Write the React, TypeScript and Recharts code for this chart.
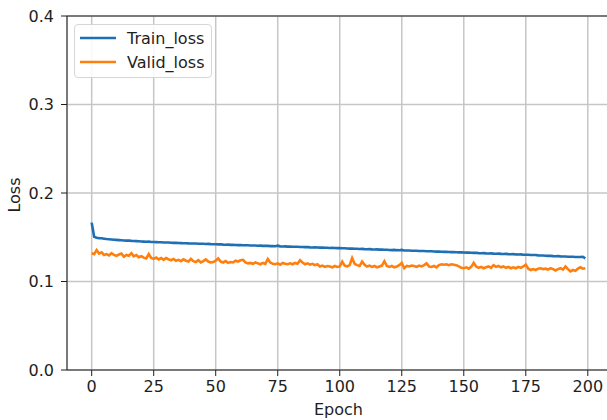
import { LineChart, Line, XAxis, YAxis, CartesianGrid, ReferenceLine, Label } from 'recharts';

const trainLoss: number[] = [
  0.1665, 0.1505, 0.1495, 0.1490, 0.1488, 0.1484, 0.1480, 0.1478, 0.1475, 0.1472,
  0.1470, 0.1468, 0.1466, 0.1464, 0.1462, 0.1463, 0.1459, 0.1457, 0.1456, 0.1455,
  0.1452, 0.1451, 0.1449, 0.1450, 0.1447, 0.1446, 0.1445, 0.1443, 0.1444, 0.1441,
  0.1440, 0.1440, 0.1438, 0.1437, 0.1438, 0.1435, 0.1434, 0.1433, 0.1433, 0.1431,
  0.1430, 0.1429, 0.1430, 0.1427, 0.1426, 0.1426, 0.1424, 0.1425, 0.1422, 0.1421,
  0.1421, 0.1419, 0.1420, 0.1417, 0.1416, 0.1417, 0.1414, 0.1414, 0.1412, 0.1411,
  0.1412, 0.1410, 0.1409, 0.1410, 0.1407, 0.1406, 0.1407, 0.1404, 0.1405, 0.1403,
  0.1402, 0.1402, 0.1400, 0.1401, 0.1399, 0.1405, 0.1397, 0.1396, 0.1397, 0.1394,
  0.1394, 0.1393, 0.1392, 0.1393, 0.1390, 0.1390, 0.1388, 0.1389, 0.1386, 0.1385,
  0.1386, 0.1384, 0.1383, 0.1384, 0.1381, 0.1381, 0.1379, 0.1380, 0.1378, 0.1377,
  0.1377, 0.1375, 0.1376, 0.1373, 0.1372, 0.1373, 0.1370, 0.1370, 0.1368, 0.1369,
  0.1366, 0.1365, 0.1366, 0.1363, 0.1362, 0.1363, 0.1360, 0.1360, 0.1358, 0.1359,
  0.1356, 0.1355, 0.1357, 0.1354, 0.1353, 0.1357, 0.1351, 0.1350, 0.1351, 0.1348,
  0.1347, 0.1348, 0.1345, 0.1344, 0.1345, 0.1342, 0.1341, 0.1342, 0.1339, 0.1338,
  0.1339, 0.1336, 0.1335, 0.1336, 0.1333, 0.1332, 0.1333, 0.1330, 0.1329, 0.1330,
  0.1327, 0.1326, 0.1327, 0.1324, 0.1323, 0.1324, 0.1321, 0.1320, 0.1321, 0.1318,
  0.1317, 0.1318, 0.1315, 0.1314, 0.1315, 0.1312, 0.1311, 0.1312, 0.1309, 0.1308,
  0.1309, 0.1306, 0.1305, 0.1306, 0.1303, 0.1302, 0.1303, 0.1300, 0.1299, 0.1300,
  0.1295, 0.1293, 0.1294, 0.1291, 0.1290, 0.1290, 0.1287, 0.1286, 0.1287, 0.1284,
  0.1283, 0.1283, 0.1280, 0.1279, 0.1280, 0.1277, 0.1276, 0.1277, 0.1280, 0.1262,
];

const validLoss: number[] = [
  0.1320, 0.1310, 0.1355, 0.1315, 0.1330, 0.1300, 0.1310, 0.1295, 0.1320, 0.1300,
  0.1290, 0.1305, 0.1315, 0.1280, 0.1300, 0.1290, 0.1320, 0.1285, 0.1300, 0.1275,
  0.1285, 0.1270, 0.1260, 0.1310, 0.1265, 0.1255, 0.1270, 0.1250, 0.1265, 0.1245,
  0.1265, 0.1250, 0.1240, 0.1255, 0.1235, 0.1245, 0.1230, 0.1250, 0.1235, 0.1225,
  0.1255, 0.1230, 0.1220, 0.1240, 0.1215, 0.1230, 0.1250, 0.1225, 0.1215, 0.1220,
  0.1235, 0.1260, 0.1225, 0.1215, 0.1230, 0.1210, 0.1220, 0.1215, 0.1235, 0.1225,
  0.1240, 0.1245, 0.1215, 0.1205, 0.1210, 0.1200, 0.1215, 0.1205, 0.1195, 0.1210,
  0.1200, 0.1255, 0.1215, 0.1200, 0.1195, 0.1205, 0.1190, 0.1210, 0.1200, 0.1195,
  0.1205, 0.1195, 0.1210, 0.1200, 0.1240, 0.1215, 0.1195, 0.1205, 0.1190, 0.1200,
  0.1185, 0.1195, 0.1170, 0.1180, 0.1165, 0.1175, 0.1170, 0.1160, 0.1175, 0.1165,
  0.1170, 0.1225, 0.1180, 0.1170, 0.1185, 0.1265, 0.1200, 0.1185, 0.1175, 0.1225,
  0.1190, 0.1170, 0.1180, 0.1165, 0.1175, 0.1160, 0.1170, 0.1180, 0.1230, 0.1175,
  0.1165, 0.1175, 0.1160, 0.1170, 0.1185, 0.1210, 0.1150, 0.1175, 0.1170, 0.1180,
  0.1175, 0.1165, 0.1180, 0.1170, 0.1185, 0.1205, 0.1170, 0.1165, 0.1175, 0.1160,
  0.1185, 0.1195, 0.1190, 0.1195, 0.1185, 0.1195, 0.1190, 0.1185, 0.1170, 0.1155,
  0.1150, 0.1160, 0.1145, 0.1165, 0.1210, 0.1170, 0.1155, 0.1165, 0.1150, 0.1160,
  0.1170, 0.1155, 0.1185, 0.1165, 0.1175, 0.1160, 0.1170, 0.1155, 0.1165, 0.1150,
  0.1160, 0.1150, 0.1165, 0.1155, 0.1170, 0.1190, 0.1145, 0.1130, 0.1140, 0.1130,
  0.1145, 0.1150, 0.1140, 0.1145, 0.1135, 0.1150, 0.1140, 0.1125, 0.1140, 0.1150,
  0.1135, 0.1170, 0.1140, 0.1115, 0.1130, 0.1120, 0.1145, 0.1160, 0.1145, 0.1150,
];

const xTicks = [0, 25, 50, 75, 100, 125, 150, 175, 200];
const yTicks = [0, 0.1, 0.2, 0.3, 0.4];

const data = trainLoss.map((t, i) => ({ epoch: i, train: t, valid: validLoss[i] }));

const FONT = '"DejaVu Sans", sans-serif';
const FS = 16;
const INK = '#1e1e1e';
const BLUE = '#1f6fb4';
const ORANGE = '#ff7f0e';

const legendItems = [
  { name: 'Train_loss', color: BLUE },
  { name: 'Valid_loss', color: ORANGE },
];

const LegendBox = () => (
  <div
    style={{
      position: 'absolute',
      left: 74,
      top: 24,
      width: 138,
      height: 54,
      boxSizing: 'border-box',
      border: '1px solid #d6d6d6',
      borderRadius: 4,
      background: 'rgba(255,255,255,0.85)',
      padding: '1px 0 0 5px',
      fontFamily: FONT,
      fontSize: FS,
      color: INK,
    }}
  >
    {legendItems.map((e) => (
      <div key={e.name} style={{ display: 'flex', alignItems: 'center', height: 24 }}>
        <svg width={36} height={4} style={{ marginRight: 11 }}>
          <line x1={0} y1={2} x2={36} y2={2} stroke={e.color} strokeWidth={2.6} />
        </svg>
        <span>{e.name}</span>
      </div>
    ))}
  </div>
);

const LossLabel = (props: any) => {
  const vb = props.viewBox || { x: 0, y: 0, height: 0 };
  const cx = vb.x + 14.5;
  const cy = vb.y + vb.height / 2 + 2;
  return (
    <text
      x={cx}
      y={cy}
      transform={`rotate(-90 ${cx} ${cy})`}
      textAnchor="middle"
      dominantBaseline="central"
      fontFamily={FONT}
      fontSize={FS}
      fill={INK}
    >
      Loss
    </text>
  );
};

export default function App() {
  return (
    <div style={{ position: 'absolute', left: 0, top: 0, width: 607, height: 420, overflow: 'hidden', background: '#fff' }}>
      <LineChart width={620} height={420} data={data} margin={{ top: 16, right: 10, left: 0, bottom: 0 }}>
        <CartesianGrid stroke="#c6c6c6" strokeWidth={1.5} />
        <XAxis
          dataKey="epoch"
          type="number"
          domain={[-9.95, 208.95]}
          ticks={xTicks}
          allowDataOverflow
          height={50}
          tickSize={6}
          tickMargin={5}
          stroke={INK}
          tick={{ fill: INK, fontFamily: FONT, fontSize: FS }}
        >
          <Label value="Epoch" position="insideBottom" offset={5} fill={INK} fontFamily={FONT} fontSize={FS} />
        </XAxis>
        <YAxis
          type="number"
          domain={[0, 0.4]}
          ticks={yTicks}
          width={67}
          tickSize={6}
          tickMargin={7}
          stroke={INK}
          tickFormatter={(v: number) => v.toFixed(1)}
          tick={{ fill: INK, fontFamily: FONT, fontSize: FS }}
        >
          <Label content={<LossLabel />} />
        </YAxis>
        <ReferenceLine y={0.4} stroke={INK} strokeWidth={1.2} />
        <ReferenceLine x={208.95} stroke={INK} strokeWidth={1.2} />
        <Line type="linear" dataKey="train" name="Train_loss" stroke={BLUE} strokeWidth={2.6} dot={false} isAnimationActive={false} />
        <Line type="linear" dataKey="valid" name="Valid_loss" stroke={ORANGE} strokeWidth={2.6} dot={false} isAnimationActive={false} />
      </LineChart>
      <LegendBox />
    </div>
  );
}
